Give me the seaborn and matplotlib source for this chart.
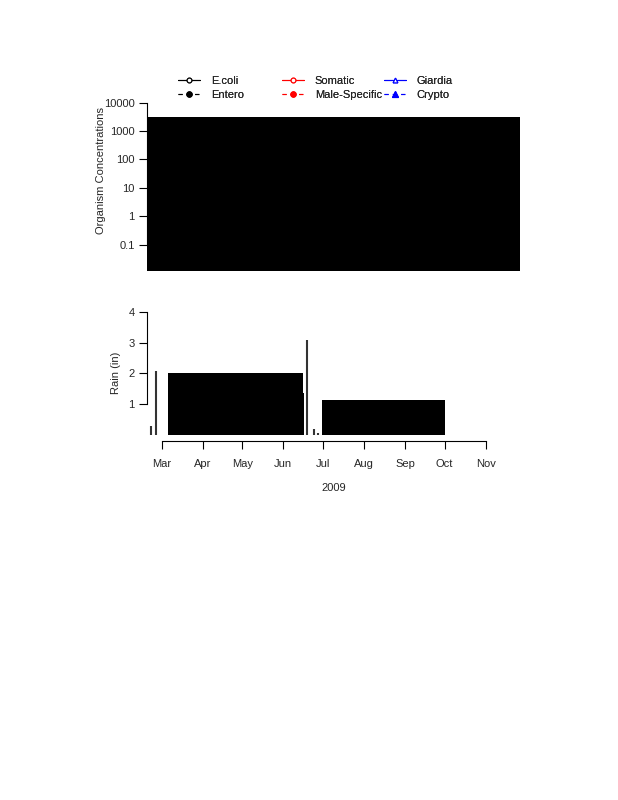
import numpy as np
import pandas as pd
import matplotlib
matplotlib.use("Agg")
import matplotlib.pyplot as plt
import matplotlib.dates as mdates
from matplotlib.lines import Line2D
import seaborn as sns

# ----------------------------
# Data
# ----------------------------

# organism panel: the sampled series overplot into one solid block
conc_dates = pd.to_datetime(["2009-02-18", "2009-11-27"])
conc_low = [0.0125, 0.0125]
conc_high = [3200, 3200]
conc_ticks = [0.1, 1, 10, 100, 1000, 10000]
conc_labels = ["0.1", "1", "10", "100", "1000", "10000"]

# rain panel: dense daily bars merge into blocks, plus a few isolated spikes
block_start = pd.to_datetime(["2009-03-06", "2009-06-16", "2009-06-30"])
block_end = pd.to_datetime(["2009-06-16", "2009-06-17", "2009-10-01"])
block_rain = [2.02, 1.35, 1.13]
spike_dates = pd.to_datetime(["2009-02-21", "2009-02-25", "2009-06-19",
                              "2009-06-24", "2009-06-27"])
spike_rain = [0.3, 2.08, 3.08, 0.18, 0.06]
rain_ticks = [1, 2, 3, 4]

month_ticks = pd.date_range("2009-03-01", "2009-11-01", freq="MS")
month_labels = [d.strftime("%b") for d in month_ticks]

series_names = ["E.coli", "Entero", "Somatic", "Male-Specific", "Giardia", "Crypto"]
series_colors = ["black", "black", "red", "red", "blue", "blue"]
series_dashed = [False, True, False, True, False, True]
series_markers = ["o", "o", "o", "o", "^", "^"]
series_filled = [False, True, False, True, False, True]

# ----------------------------
# Style
# ----------------------------

sns.set_theme(style="ticks")
plt.rcParams["font.family"] = ["Liberation Sans", "DejaVu Sans"]
plt.rcParams["font.size"] = 8

W, H = 618, 800
fig = plt.figure(figsize=(W / 100, H / 100), dpi=100)


def px_axes(left, top, right, bottom):
    return fig.add_axes([left / W, 1 - bottom / H, (right - left) / W, (bottom - top) / H])


xlim = (mdates.date2num(pd.Timestamp("2009-02-18")), mdates.date2num(pd.Timestamp("2009-11-27")))

# ----------------------------
# Organism concentrations
# ----------------------------

ax1 = px_axes(147, 99.8, 520, 270.7)
ax1.set_yscale("log")
ax1.fill_between(conc_dates, conc_low, conc_high, color="black", lw=0)
ax1.set_xlim(xlim)
ax1.set_ylim(0.0125, 10 ** 4.095)
ax1.set_yticks(conc_ticks, conc_labels)
ax1.yaxis.set_minor_locator(matplotlib.ticker.NullLocator())
ax1.set_xticks([])
sns.despine(ax=ax1, bottom=True)
ax1.spines["left"].set_bounds(0.1, 10000)
ax1.set_ylabel("Organism Concentrations", fontsize=8)
ax1.yaxis.set_label_coords(-0.110, 0.585)

# ----------------------------
# Rain
# ----------------------------

ax2 = px_axes(147, 312, 520, 441)
widths = [(e - s).days for s, e in zip(block_start, block_end)]
ax2.bar(block_start, block_rain, width=widths, align="edge", color="black", lw=0)
ax2.vlines(spike_dates, 0, spike_rain, color="#333333", lw=1.5)
ax2.set_xlim(xlim)
ax2.set_ylim(-0.2, 4.0)
ax2.set_yticks(rain_ticks, [str(t) for t in rain_ticks])
ax2.set_xticks(month_ticks, month_labels)
sns.despine(ax=ax2)
ax2.spines["left"].set_bounds(1, 4)
ax2.spines["bottom"].set_bounds(mdates.date2num(month_ticks[0]), mdates.date2num(month_ticks[-1]))
ax2.set_ylabel("Rain (in)", fontsize=8)
ax2.yaxis.set_label_coords(-0.0697, 0.527)
ax2.set_xlabel("2009", fontsize=8)
ax2.xaxis.set_label_coords(0.5, -0.326)

for ax in (ax1, ax2):
    ax.set_facecolor("none")
    for s in ax.spines.values():
        s.set_linewidth(0.8)
        s.set_color("black")
    ax.tick_params(direction="out", length=5.8, width=0.8, color="black",
                   labelsize=8, pad=3)
ax2.tick_params(axis="x", pad=7)

# ----------------------------
# Legend (three columns of two)
# ----------------------------

handles = []
for name, c, dashed, m, filled in zip(series_names, series_colors, series_dashed,
                                      series_markers, series_filled):
    ls = (0, (3.75, 3.75)) if dashed else "-"
    handles.append(Line2D([], [], color=c, ls=ls, lw=0.8, marker=m,
                          markersize=3.8 if filled else 3.4, markeredgewidth=0.8,
                          markerfacecolor=c if filled else "white",
                          markeredgecolor=c, label=name))

for i, x0 in enumerate([178, 282, 384]):
    leg = fig.legend(handles[2 * i:2 * i + 2], series_names[2 * i:2 * i + 2],
                     loc="upper left", bbox_to_anchor=(x0 / W, 1 - 76 / H),
                     frameon=False, borderpad=0, borderaxespad=0,
                     handlelength=1.95, handletextpad=1.0, labelspacing=0.35,
                     fontsize=8)
    fig.add_artist(leg)

fig.savefig("out.png", dpi=100)
